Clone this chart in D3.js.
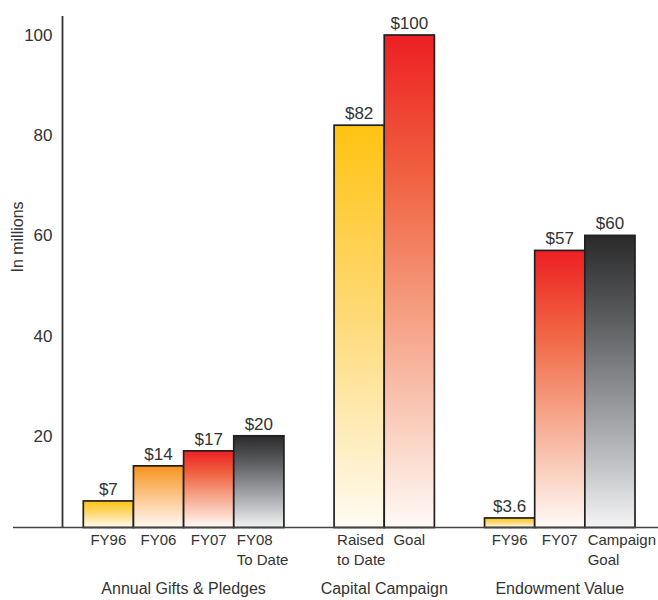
<!DOCTYPE html>
<html>
<head>
<meta charset="utf-8">
<script src="https://cdn.jsdelivr.net/npm/d3@7"></script>
<style>
  html, body { margin: 0; padding: 0; background: #fff; }
  svg text { font-family: "Liberation Sans", Arial, sans-serif; fill: #333; }
</style>
</head>
<body>
<svg id="chart" width="658" height="600"></svg>
<script>
// Fundraising summary, in millions of dollars
const groupNames = ["Annual Gifts & Pledges", "Capital Campaign", "Endowment Value"];
const barGroup   = [0, 0, 0, 0, 1, 1, 2, 2, 2];
const barLabels  = [["FY96"], ["FY06"], ["FY07"], ["FY08", "To Date"],
                    ["Raised", "to Date"], ["Goal"],
                    ["FY96"], ["FY07"], ["Campaign", "Goal"]];
const values     = [7, 14, 17, 20, 82, 100, 3.6, 57, 60];
const valueText  = ["$7", "$14", "$17", "$20", "$82", "$100", "$3.6", "$57", "$60"];
const tickValues = [20, 40, 60, 80, 100];
const axisTitle  = "In millions";

// Gradient tone for each bar
const barTones = ["yellow", "orange", "red", "dark", "yellow", "red", "yellow", "red", "dark"];
const palette = {
  yellow: [[0, "#ffc312"], [0.5, "#fedb7c"], [1, "#fffbf2"]],
  orange: [[0, "#f7941d"], [0.5, "#fcc68c"], [1, "#fff9f2"]],
  red:    [[0, "#ed1f24"], [0.28, "#f0603f"], [0.55, "#f59b7e"], [0.8, "#fad0bf"], [1, "#fffaf7"]],
  dark:   [[0, "#2a2a2b"], [0.27, "#58595b"], [0.52, "#8a8c8f"], [0.76, "#bbbdc0"], [1, "#f4f4f5"]]
};

const W = 658;
const svg = d3.select("#chart");
const baseY = 527.5, axisX = 62.5;

// Bar slots: one empty slot between groups
const slots = [];
groupNames.forEach((g, gi) => {
  if (gi > 0) slots.push("gap" + gi);
  values.forEach((v, i) => { if (barGroup[i] === gi) slots.push("b" + i); });
});
const x = d3.scaleBand().domain(slots).range([83.3, 635]).padding(0);
const y = d3.scaleLinear().domain([0, 100]).range([536, 35]);

// Gradients
const defs = svg.append("defs");
Object.entries(palette).forEach(([k, stops]) => {
  const lg = defs.append("linearGradient").attr("id", "g-" + k)
    .attr("x1", 0).attr("y1", 0).attr("x2", 0).attr("y2", 1);
  stops.forEach(([o, c]) => lg.append("stop").attr("offset", o).attr("stop-color", c));
});

// Y axis labels
const yAxis = d3.axisLeft(y).tickValues(tickValues).tickSize(0).tickPadding(10);
const ga = svg.append("g").attr("transform", `translate(${axisX},0)`).call(yAxis);
ga.select(".domain").remove();
ga.selectAll("text").style("font-size", "17px")
  .style("font-family", "'Liberation Sans', Arial, sans-serif").attr("fill", "#333");

svg.append("text")
  .attr("transform", `translate(23,237) rotate(-90)`)
  .attr("text-anchor", "middle")
  .style("font-size", "16px")
  .text(axisTitle);

// Bars
const idx = values.map((v, i) => i);
svg.append("g").selectAll("rect").data(idx).join("rect")
  .attr("x", i => x("b" + i))
  .attr("y", i => y(values[i]))
  .attr("width", x.bandwidth())
  .attr("height", i => baseY - y(values[i]))
  .attr("fill", i => `url(#g-${barTones[i]})`)
  .attr("stroke", "#231f20")
  .attr("stroke-width", 1.7);

// Value labels
svg.append("g").selectAll("text").data(idx).join("text")
  .attr("x", i => x("b" + i) + x.bandwidth() / 2)
  .attr("y", i => y(values[i]) - 6)
  .attr("text-anchor", "middle")
  .style("font-size", "17px")
  .text(i => valueText[i]);

// Axis lines
svg.append("line").attr("x1", 13).attr("x2", W).attr("y1", baseY).attr("y2", baseY)
  .attr("stroke", "#444").attr("stroke-width", 1.6);
svg.append("line").attr("x1", axisX).attr("x2", axisX).attr("y1", 16).attr("y2", baseY)
  .attr("stroke", "#333").attr("stroke-width", 1.8);

// Category labels: single lines centred, two-line labels left-aligned inside the bar
const cat = svg.append("g").selectAll("g").data(idx).join("g");
cat.each(function (i) {
  const g = d3.select(this);
  const left = x("b" + i);
  const cx = left + x.bandwidth() / 2;
  const lines = barLabels[i];
  const texts = lines.map((t, li) => g.append("text")
    .attr("y", 545 + li * 19.5)
    .style("font-size", "15px")
    .text(t));
  if (lines.length === 1) {
    texts[0].attr("x", cx).attr("text-anchor", "middle");
  } else {
    const w = d3.max(texts, t => t.node().getComputedTextLength());
    const lx = Math.min(left + 3, W - 2 - w);
    texts.forEach(t => t.attr("x", lx));
  }
});

// Group titles
svg.append("g").selectAll("text").data(groupNames).join("text")
  .attr("x", (g, gi) => {
    const ids = idx.filter(i => barGroup[i] === gi);
    return (x("b" + ids[0]) + x("b" + ids[ids.length - 1]) + x.bandwidth()) / 2;
  })
  .attr("y", 594)
  .attr("text-anchor", "middle")
  .style("font-size", "16px")
  .text(g => g);
</script>
</body>
</html>
